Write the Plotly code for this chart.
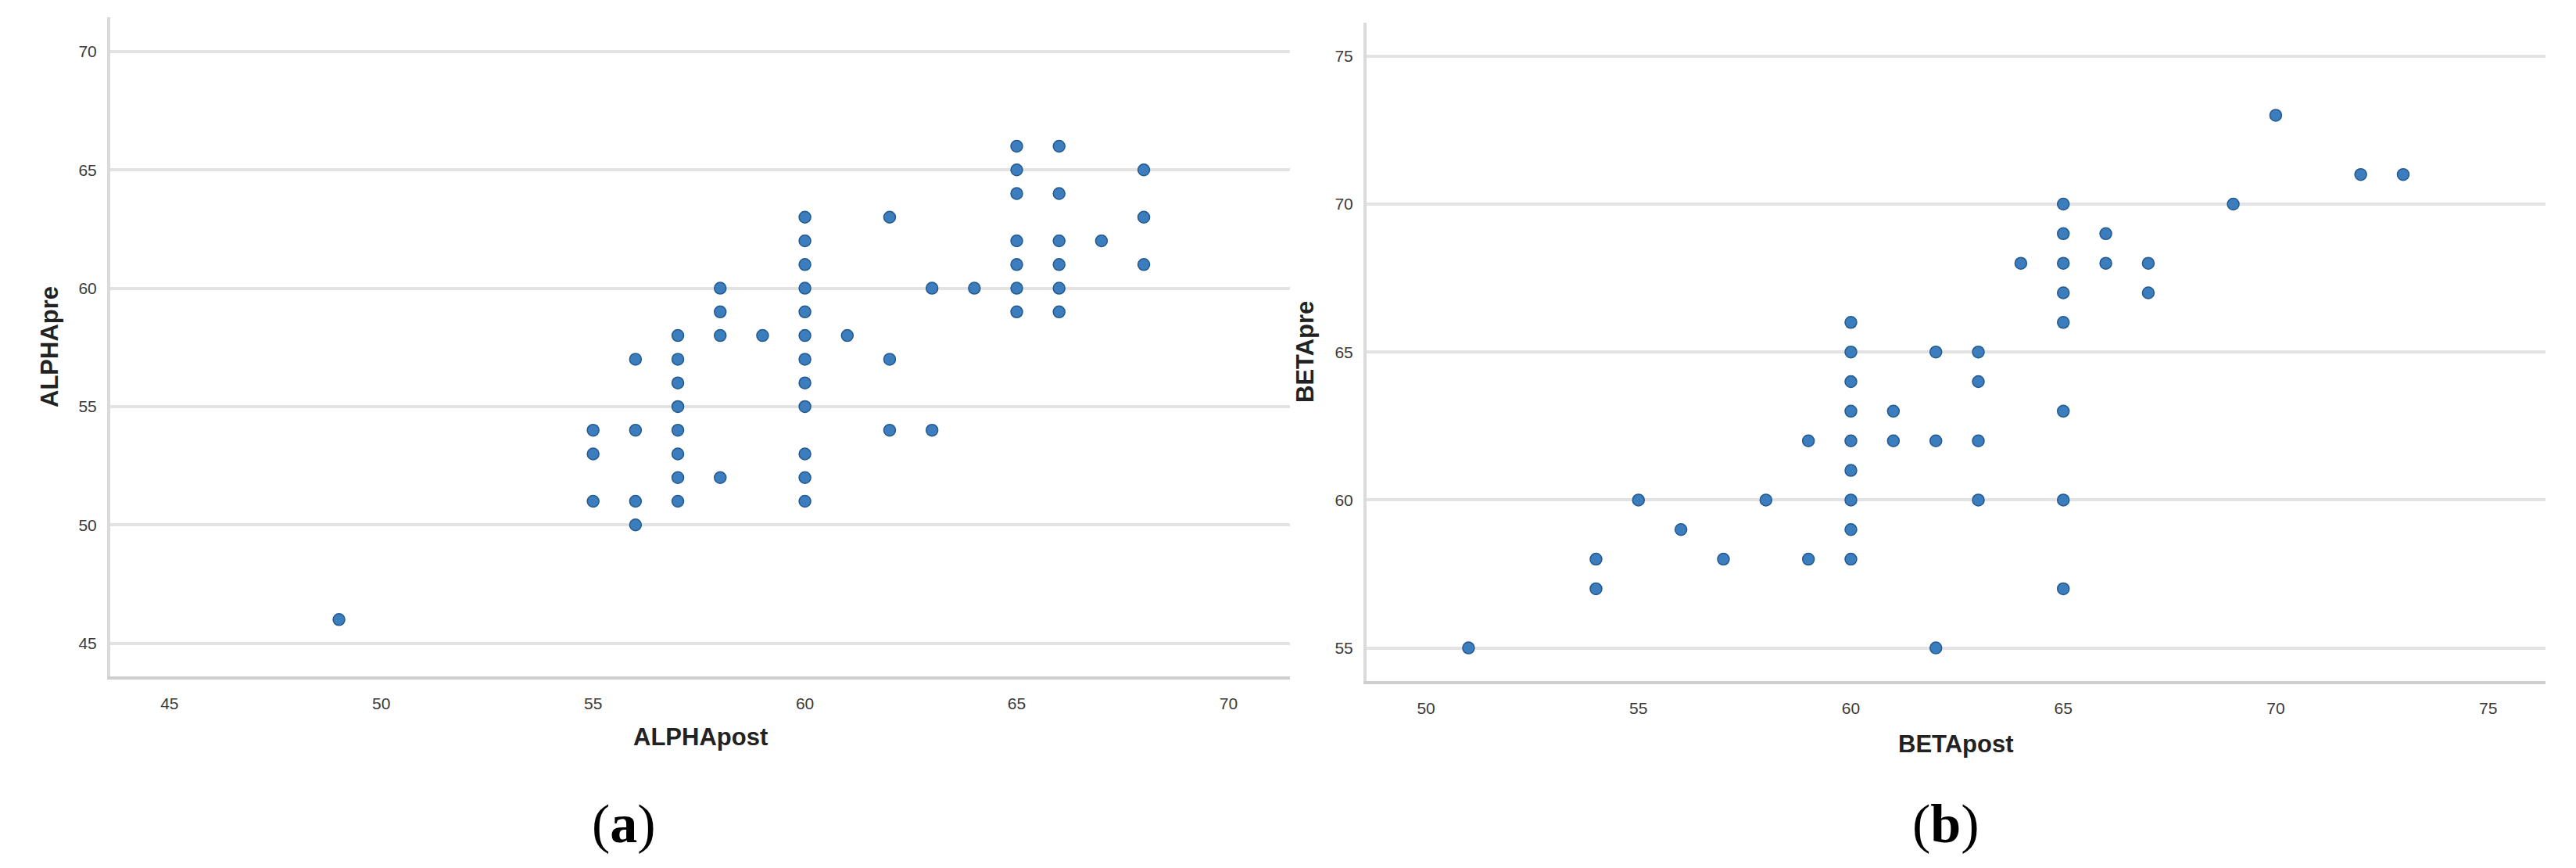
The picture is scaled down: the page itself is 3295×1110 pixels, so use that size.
import plotly.graph_objects as go

# panel (a): ALPHApost vs ALPHApre
alpha_post = [49,
              55, 55, 55,
              56, 56, 56, 56,
              57, 57, 57, 57, 57, 57, 57, 57,
              58, 58, 58, 58,
              59,
              60, 60, 60, 60, 60, 60, 60, 60, 60, 60, 60, 60,
              61,
              62, 62, 62,
              63, 63,
              64,
              65, 65, 65, 65, 65, 65, 65,
              66, 66, 66, 66, 66, 66,
              67,
              68, 68, 68]
alpha_pre = [46,
             54, 53, 51,
             57, 54, 51, 50,
             58, 57, 56, 55, 54, 53, 52, 51,
             60, 59, 58, 52,
             58,
             63, 62, 61, 60, 59, 58, 57, 56, 55, 53, 52, 51,
             58,
             63, 57, 54,
             60, 54,
             60,
             66, 65, 64, 62, 61, 60, 59,
             66, 64, 62, 61, 60, 59,
             62,
             65, 63, 61]

# panel (b): BETApost vs BETApre
beta_post = [51,
             54, 54,
             55,
             56,
             57,
             58,
             59, 59,
             60, 60, 60, 60, 60, 60, 60, 60, 60,
             61, 61,
             62, 62, 62,
             63, 63, 63, 63,
             64,
             65, 65, 65, 65, 65, 65, 65, 65,
             66, 66,
             67, 67,
             69,
             70,
             72, 73]
beta_pre = [55,
            58, 57,
            60,
            59,
            58,
            60,
            62, 58,
            66, 65, 64, 63, 62, 61, 60, 59, 58,
            63, 62,
            65, 62, 55,
            65, 64, 62, 60,
            68,
            70, 69, 68, 67, 66, 63, 60, 57,
            69, 68,
            68, 67,
            70,
            73,
            71, 71]

ticks_a = [45, 50, 55, 60, 65, 70]
ticks_b = [50, 55, 60, 65, 70, 75]

W, H = 3295, 1110

marker = dict(size=15, color='#3b7dbd', line=dict(color='#24598f', width=1.5))
tick_font = dict(family='Liberation Sans', size=21, color='#3a3a3a')
title_font = dict(family='Liberation Sans', size=31, color='#222222')


def px(x):
    return x / W


def py(y):
    return 1 - y / H


fig = go.Figure()
fig.add_trace(go.Scatter(x=alpha_post, y=alpha_pre, mode='markers',
                         marker=marker, xaxis='x', yaxis='y', showlegend=False))
fig.add_trace(go.Scatter(x=beta_post, y=beta_pre, mode='markers',
                         marker=marker, xaxis='x2', yaxis='y2', showlegend=False))

xcommon = dict(showgrid=False, zeroline=False, showline=True, linecolor='#cfcfcf',
               linewidth=4, ticks='', tickfont=tick_font, ticklabelstandoff=13)
ycommon = dict(showgrid=True, gridcolor='#e3e3e3', gridwidth=4, zeroline=False,
               showline=True, linecolor='#dadada', linewidth=4, ticks='',
               tickfont=tick_font, ticklabelstandoff=9)

fig.update_layout(
    width=W, height=H,
    margin=dict(l=0, r=0, t=0, b=0),
    paper_bgcolor='white', plot_bgcolor='white',
    xaxis=dict(domain=[px(133), px(1642)], range=[43.6, 71.45], anchor='y',
               tickvals=ticks_a, **xcommon),
    yaxis=dict(domain=[py(857), py(14)], range=[43.6, 71.45], anchor='x',
               tickvals=ticks_a, **ycommon),
    xaxis2=dict(domain=[px(1740), px(3248)], range=[48.6, 76.35], anchor='y2',
                tickvals=ticks_b, **xcommon),
    yaxis2=dict(domain=[py(863), py(21)], range=[53.88, 76.13], anchor='x2',
                tickvals=ticks_b, **ycommon),
)

notes = [
    dict(x=px(888), y=py(935), text='<b>ALPHApost</b>', font=title_font, textangle=0),
    dict(x=px(55), y=py(435), text='<b>ALPHApre</b>', font=title_font, textangle=-90),
    dict(x=px(2494), y=py(943), text='<b>BETApost</b>', font=title_font, textangle=0),
    dict(x=px(1662), y=py(442), text='<b>BETApre</b>', font=title_font, textangle=-90),
]
for n in notes:
    fig.add_annotation(xref='paper', yref='paper', showarrow=False,
                       xanchor='center', yanchor='middle', **n)

label_font = dict(family='Liberation Serif', size=70, color='black')
fig.add_annotation(x=px(790), y=py(1045), xref='paper', yref='paper', showarrow=False,
                   text='(<b>a</b>)', font=label_font, xanchor='center', yanchor='middle')
fig.add_annotation(x=px(2481), y=py(1045), xref='paper', yref='paper', showarrow=False,
                   text='(<b>b</b>)', font=label_font, xanchor='center', yanchor='middle')

fig.write_html("out.html")
